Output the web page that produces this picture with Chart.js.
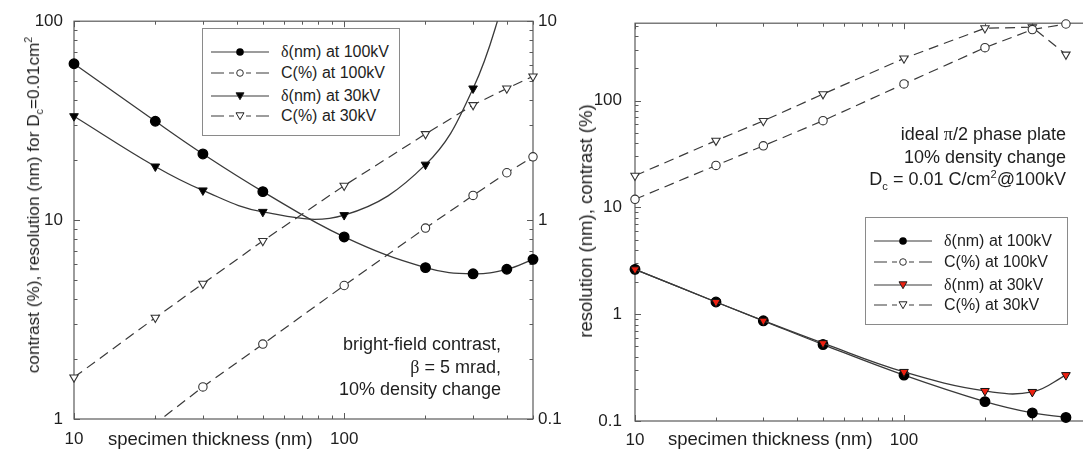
<!DOCTYPE html>
<html><head><meta charset="utf-8">
<script src="https://cdn.jsdelivr.net/npm/chart.js@4.4.0/dist/chart.umd.min.js"></script>
<style>
html,body{margin:0;padding:0;background:#fff;overflow:hidden;width:1083px;height:452px;}
#wrap{position:relative;width:1083px;height:452px;overflow:hidden;font-family:'Liberation Sans',Arial,sans-serif;color:#1e1e1e;}
canvas{position:absolute;top:0;}
#c1{left:0;}
#c2{left:540px;}
.txt{position:absolute;white-space:nowrap;font-size:18.5px;line-height:20px;}
.rot{transform:translate(-50%,-50%) rotate(-90deg);}
.sym{font-family:'Liberation Serif','DejaVu Serif',serif;}
sub,sup{font-size:62%;line-height:0;}
.ann{position:absolute;white-space:nowrap;font-size:18px;line-height:22.5px;text-align:right;}
.legend{position:absolute;border:1px solid #8a8a8a;background:#fff;box-sizing:border-box;}
.row{position:absolute;left:0;height:18px;width:100%;}
.row svg{position:absolute;left:8px;top:3px;}
.row span.lab{position:absolute;left:78px;top:0;font-size:16px;line-height:18px;white-space:nowrap;}
</style>
</head><body>
<div id="wrap">
<canvas id="c1" width="580" height="452"></canvas>
<canvas id="c2" width="600" height="452"></canvas>
</div>
<script>
// ---------------- data ----------------
const thickness = [10, 20, 30, 50, 100, 200, 300, 400, 500];
const bfDelta100 = [61.1, 31.4, 21.5, 13.9, 8.23, 5.77, 5.37, 5.66, 6.35];
const bfC100     = [0.48, 0.95, 1.45, 2.38, 4.69, 9.12, 13.3, 17.3, 20.8];
const bfDelta30  = [33.3, 18.6, 14.1, 11.0, 10.6, 19.0, 45.9, 140, null];
const bfC30      = [1.62, 3.23, 4.79, 7.86, 14.9, 27.1, 37.9, 45.9, 52.8];

const ppThickness = [10, 20, 30, 50, 100, 200, 300, 400];
const ppDelta100 = [2.63, 1.30, 0.867, 0.52, 0.269, 0.152, 0.119, 0.108];
const ppC100     = [11.9, 24.7, 37.7, 64.8, 143, 313, 462, 521];
const ppDelta30  = [2.63, 1.30, 0.87, 0.535, 0.288, 0.191, 0.187, 0.269];
const ppC30      = [19.8, 42.2, 64.5, 115, 248, 476, 486, 270];

const seriesLabels = ['δ(nm) at 100kV', 'C(%) at 100kV', 'δ(nm) at 30kV', 'C(%) at 30kV'];

const xTickLabels = [10, 100];
const xMinorTicks = [20, 30, 40, 50, 60, 70, 80, 90, 200, 300, 400, 500];
const bfYTickLabels = [1, 10, 100];
const bfY2TickLabels = [0.1, 1, 10];
const bfYMinorTicks = [2, 3, 4, 5, 6, 7, 8, 9, 20, 30, 40, 50, 60, 70, 80, 90];
const ppYTickLabels = [0.1, 1, 10, 100];
const ppYMinorTicks = [0.2, 0.3, 0.4, 0.5, 0.6, 0.7, 0.8, 0.9, 2, 3, 4, 5, 6, 7, 8, 9, 20, 30, 40, 50, 60, 70, 80, 90, 200, 300, 400, 500];

// ---------------- styles ----------------
const LINE = '#3a3a3a';
const FONT = {family: "'Liberation Sans', Arial, sans-serif", size: 17};
const TXT = '#1e1e1e';
const DASH = [10, 6];
const RED = '#ee2010';

function pts(xs, ys) { return xs.map((x, i) => ({x: x, y: ys[i]})); }

function makeSets(xs, d100, c100, d30, c30, triFill, clips) {
  return [
    {label: seriesLabels[2], data: pts(xs, d30), borderColor: LINE, borderWidth: 1.3,
     pointStyle: 'triangle', rotation: 180, pointRadius: 5, pointBackgroundColor: triFill,
     pointBorderColor: '#111', pointBorderWidth: 1, tension: 0.4, order: 0, clip: clips[2], spanGaps: false},
    {label: seriesLabels[0], data: pts(xs, d100), borderColor: LINE, borderWidth: 1.3,
     pointStyle: 'circle', pointRadius: 4.8, pointBackgroundColor: '#000', pointBorderColor: '#000',
     tension: 0.4, order: 1, clip: clips[0]},
    {label: seriesLabels[1], data: pts(xs, c100), borderColor: LINE, borderWidth: 1.2, borderDash: DASH,
     pointStyle: 'circle', pointRadius: 4.2, pointBackgroundColor: '#fff', pointBorderColor: '#333',
     pointBorderWidth: 1.1, tension: 0, order: 2, clip: clips[1]},
    {label: seriesLabels[3], data: pts(xs, c30), borderColor: LINE, borderWidth: 1.2, borderDash: DASH,
     pointStyle: 'triangle', rotation: 180, pointRadius: 4.8, pointBackgroundColor: '#fff', pointBorderColor: '#333',
     pointBorderWidth: 1.1, tension: 0, order: 3, clip: clips[3]}
  ];
}

const framePlugin = {
  id: 'frame',
  beforeDatasetsDraw(chart, args, o) {
    const ctx = chart.ctx, a = chart.chartArea;
    const xs = chart.scales.x, ys = chart.scales.y;
    ctx.save();
    ctx.strokeStyle = '#5a5a5a';
    ctx.lineWidth = 1.2;
    ctx.strokeRect(a.left, a.top, a.right - a.left, a.bottom - a.top);
    ctx.lineWidth = 1;
    const seg = (x1, y1, x2, y2) => { ctx.beginPath(); ctx.moveTo(x1, y1); ctx.lineTo(x2, y2); ctx.stroke(); };
    const doX = (vals, len) => vals.forEach(v => {
      const p = Math.round(xs.getPixelForValue(v)) + 0.5;
      seg(p, a.bottom, p, a.bottom - len); seg(p, a.top, p, a.top + len);
    });
    const doY = (vals, len) => vals.forEach(v => {
      const p = Math.round(ys.getPixelForValue(v)) + 0.5;
      seg(a.left, p, a.left + len, p); seg(a.right, p, a.right - len, p);
    });
    doX(o.xMajor, 6); doX(o.xMinor, 3.5);
    doY(o.yMajor, 6); doY(o.yMinor, 3.5);
    ctx.restore();
  }
};

function logAxis(pos, min, max, labels, size, padding, isX) {
  return {
    type: 'logarithmic', position: pos, min: min, max: max,
    grid: {display: false, drawTicks: false, tickLength: 0}, border: {display: false},
    ticks: {font: FONT, color: TXT, padding: padding, autoSkip: false, maxRotation: 0,
            callback: v => String(v)},
    afterBuildTicks: s => { s.ticks = labels.map(v => ({value: v})); },
    afterFit: s => { if (isX) s.height = size; else s.width = size; }
  };
}

const common = {
  responsive: false, animation: false, devicePixelRatio: 1,
  plugins: {legend: {display: false}, tooltip: {enabled: false}}
};

const E = 12;
new Chart(document.getElementById('c1'), {
  type: 'line',
  data: {datasets: makeSets(thickness, bfDelta100, bfC100, bfDelta30, bfC30, '#000', [
    {left: E, right: E, top: E, bottom: E},
    {left: E, right: E, top: E, bottom: 0},
    {left: E, right: E, top: 0, bottom: E},
    {left: E, right: E, top: E, bottom: E}
  ])},
  options: Object.assign({}, common, {
    layout: {padding: {top: 17, left: 0, right: 0, bottom: 0}},
    scales: {
      x: logAxis('bottom', 10, 500, xTickLabels, 33, 10, true),
      y: logAxis('left', 1, 100, bfYTickLabels, 74, 11, false),
      y2: logAxis('right', 0.1, 10, bfY2TickLabels, 47, 5, false)
    },
    plugins: Object.assign({}, common.plugins, {
      frame: {xMajor: xTickLabels, xMinor: xMinorTicks, yMajor: bfYTickLabels, yMinor: bfYMinorTicks}
    })
  }),
  plugins: [framePlugin]
});

new Chart(document.getElementById('c2'), {
  type: 'line',
  data: {datasets: makeSets(ppThickness, ppDelta100, ppC100, ppDelta30, ppC30, RED, [
    {left: E, right: E, top: E, bottom: E},
    {left: E, right: E, top: E, bottom: E},
    {left: E, right: E, top: E, bottom: E},
    {left: E, right: E, top: E, bottom: E}
  ])},
  options: Object.assign({}, common, {
    layout: {padding: {top: 18, left: 0, right: 48, bottom: 0}},
    scales: {
      x: logAxis('bottom', 10, 500, xTickLabels, 31, 9, true),
      y: logAxis('left', 0.1, 530, ppYTickLabels, 95, 13, false)
    },
    plugins: Object.assign({}, common.plugins, {
      frame: {xMajor: xTickLabels, xMinor: xMinorTicks, yMajor: ppYTickLabels, yMinor: ppYMinorTicks}
    })
  }),
  plugins: [framePlugin]
});

// ---------------- HTML text: titles, annotations, legends ----------------
const wrap = document.getElementById('wrap');
function add(html, cls, style) {
  const d = document.createElement('div');
  d.className = cls; d.innerHTML = html; d.setAttribute('style', style);
  wrap.appendChild(d); return d;
}
const symb = s => s.replace(/([δβπ])/g, '<span class="sym">$1</span>');

add('contrast (%), resolution (nm) for D<sub>c</sub>=0.01cm<sup>2</sup>', 'txt rot', 'left:33px;top:205px;font-size:17.2px;');
add('resolution (nm), contrast (%)', 'txt rot', 'left:586px;top:221px;');
add('specimen thickness (nm)', 'txt', 'left:108px;top:429px;');
add('specimen thickness (nm)', 'txt', 'left:668px;top:429px;');

add(['bright-field contrast,', symb('β = 5 mrad,'), '10% density change'].join('<br>'), 'ann',
    'right:' + (1083 - 501) + 'px;top:333px;');
add([symb('ideal π/2 phase plate'), '10% density change', 'D<sub>c</sub> = 0.01 C/cm<sup>2</sup>@100kV'].join('<br>'), 'ann',
    'right:' + (1083 - 1066) + 'px;top:123px;');

function marker(kind, fill) {
  if (kind === 'dc') return '<circle cx="29" cy="6" r="3.8" fill="#000"/>';
  if (kind === 'oc') return '<circle cx="29" cy="6" r="3.3" fill="#fff" stroke="#333" stroke-width="1"/>';
  return '<polygon points="25,2.8 33,2.8 29,9.7" fill="' + fill + '" stroke="#222" stroke-width="1"/>';
}
function legend(left, top, w, triFill) {
  const box = add('', 'legend', 'left:' + left + 'px;top:' + top + 'px;width:' + w + 'px;height:108px;');
  const rowsY = [14, 35, 58, 78];
  const kinds = [['dc', false, '#000'], ['oc', true, '#fff'], ['tri', false, triFill], ['tri', true, '#fff']];
  seriesLabels.forEach((lab, i) => {
    const k = kinds[i];
    const dash = k[1] ? ' stroke-dasharray="13 5 5 12 5 5 13"' : '';
    const svg = '<svg width="60" height="12"><line x1="0" y1="6" x2="58" y2="6" stroke="#3a3a3a" stroke-width="1.2"' + dash + '/>' + marker(k[0], k[2]) + '</svg>';
    const r = document.createElement('div');
    r.className = 'row'; r.style.top = rowsY[i] + 'px';
    r.innerHTML = svg + '<span class="lab">' + symb(lab) + '</span>';
    box.appendChild(r);
  });
}
legend(202, 28, 198, '#000');
legend(865, 217, 203, RED);
</script>
</body></html>
